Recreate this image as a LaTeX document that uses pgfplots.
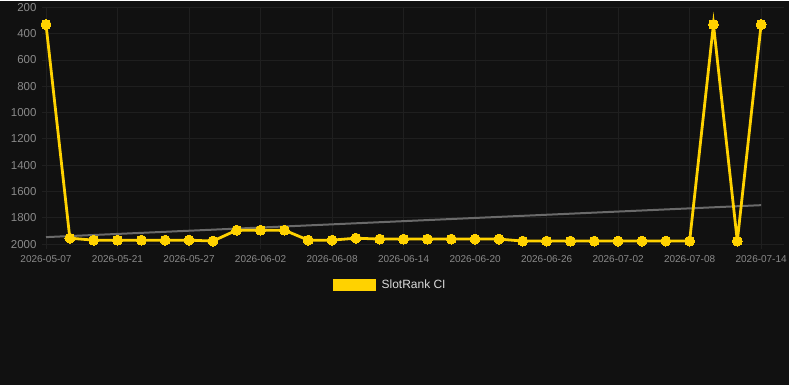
\documentclass[border=0pt]{standalone}
\usepackage{pgfplots}
\pgfplotsset{compat=1.18}
\usepackage{fontspec}
\setmainfont{Liberation Sans}
\definecolor{bgcol}{HTML}{111111}
\definecolor{gridcol}{HTML}{1F1F1F}
\definecolor{labcol}{HTML}{8A8A8A}
\definecolor{ylw}{HTML}{FFD200}
\definecolor{trendcol}{HTML}{6A6A6A}
\begin{document}
\begin{tikzpicture}[x=1pt,y=1pt]
\fill[bgcol] (0,0) rectangle (790,384);
\begin{axis}[
  at={(42pt,141pt)}, anchor=south west,
  width=743pt, height=237pt, scale only axis,
  xmin=-0.17, xmax=30.96, ymin=200, ymax=2000,
  y dir=reverse,
  axis line style={draw=none},
  grid=major, major grid style={gridcol, line width=0.9pt},
  xtick={0,3,...,30},
  xticklabels={2026-05-07,2026-05-21,2026-05-27,2026-06-02,2026-06-08,2026-06-14,2026-06-20,2026-06-26,2026-07-02,2026-07-08,2026-07-14},
  ytick={200,400,...,2000},
  yticklabel style={font=\fontsize{11.5}{12}\selectfont, text=labcol, xshift=3pt},
  xticklabel style={font=\fontsize{10}{11}\selectfont, text=labcol, yshift=-2.5pt},
  tick align=outside, xtick pos=bottom, ytick pos=left,
  major tick length=5pt,
  xtick style={draw=gridcol, line width=0.9pt},
  ytick style={draw=none},
  /pgf/number format/assume math mode=true,
  scaled y ticks=false,
  yticklabel={\pgfmathprintnumber[fixed,1000 sep={}]{\tick}},
  legend style={at={(axis description cs:0.468,-0.173)}, anchor=center, draw=none, fill=none, text=white!85!black, font=\fontsize{12}{13}\selectfont, inner sep=0pt, nodes={inner sep=0pt}},
  legend image code/.code={\fill[ylw] (0pt,-5pt) rectangle (40pt,5pt);},
]
\addplot[trendcol, line width=2pt, forget plot] coordinates {(0,1947) (30,1704)};
\addplot[ylw, line width=2.8pt, mark=*, mark size=5pt, mark options={fill=ylw, draw=ylw, line width=0pt}] coordinates {
(0,330) (1,1955) (2,1970) (3,1970) (4,1970) (5,1970) (6,1970) (7,1977)
(8,1894) (9,1894) (10,1894) (11,1970) (12,1970) (13,1955) (14,1962)
(15,1962) (16,1962) (17,1962) (18,1962) (19,1962) (20,1977) (21,1977)
(22,1977) (23,1977) (24,1977) (25,1977) (26,1977) (27,1977) (28,330)
(29,1977) (30,330)};
\addlegendentry{\hspace{6pt}SlotRank CI}
\end{axis}
\end{tikzpicture}
\end{document}
